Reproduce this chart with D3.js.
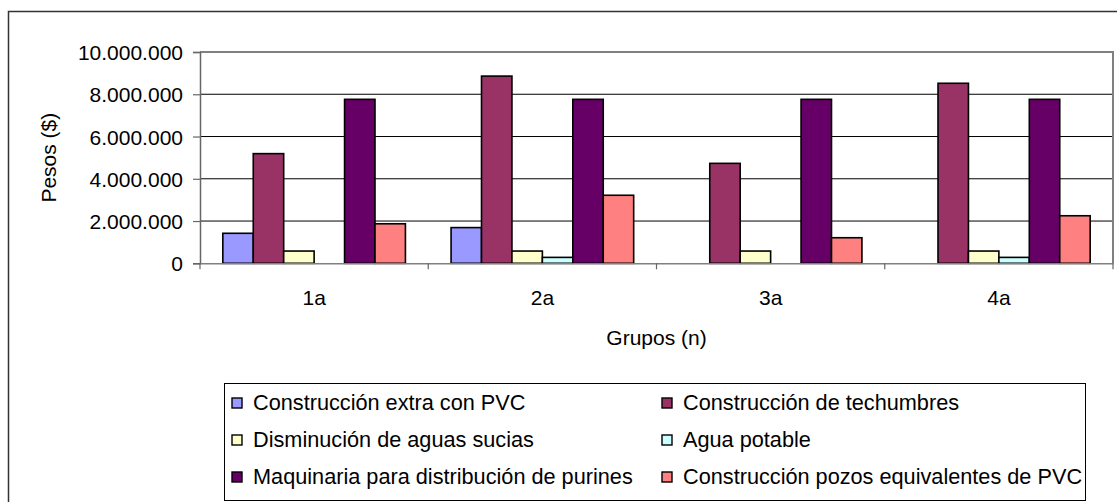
<!DOCTYPE html>
<html><head><meta charset="utf-8">
<script src="https://cdn.jsdelivr.net/npm/d3@7"></script>
<style>
body{margin:0;background:#fff;}
svg{display:block;font-family:"Liberation Sans",Arial,sans-serif;}
</style></head>
<body><svg id="c" width="1117" height="502"></svg>
<script>
const categories = ["1a","2a","3a","4a"];
const seriesNames = ["Construcción extra con PVC","Construcción de techumbres","Disminución de aguas sucias","Agua potable","Maquinaria para distribución de purines","Construcción pozos equivalentes de PVC"];
const seriesColors = ["#9999FF","#993366","#FFFFCC","#CCFFFF","#660066","#FF8080"];
const construccionExtraPVC = [1420000,1690000,0,0];
const construccionTechumbres = [5190000,8860000,4730000,8520000];
const disminucionAguasSucias = [580000,580000,580000,580000];
const aguaPotable = [0,280000,0,280000];
const maquinariaPurines = [7760000,7760000,7760000,7760000];
const construccionPozosPVC = [1870000,3220000,1210000,2250000];
const yTicks = [0,2000000,4000000,6000000,8000000,10000000];
const seriesValues = [construccionExtraPVC,construccionTechumbres,disminucionAguasSucias,aguaPotable,maquinariaPurines,construccionPozosPVC];

const svg = d3.select("#c");
const L=200,R=1113,T=52,B=263.3;
const fs = 21;
const lfs = 21.7;
const loc = d3.formatLocale({decimal:",",thousands:".",grouping:[3],currency:["$",""]});
const fmt = loc.format(",");

// outer chart border
svg.append("path").attr("d","M8.5,520V11.5H1130").attr("fill","none").attr("stroke","#333").attr("stroke-width",1.5);

const x0 = d3.scaleBand().domain(categories).range([L,R]).padding(0);
const bw = x0.bandwidth();
const x1 = d3.scaleBand().domain(d3.range(seriesNames.length)).range([bw*0.1,bw*0.9]).padding(0);
const y = d3.scaleLinear().domain([0,10000000]).range([B,T]);

// gridlines
svg.append("g").selectAll("line").data(yTicks.filter(d=>d>0 && d<10000000)).join("line")
  .attr("x1",L).attr("x2",R).attr("y1",d=>y(d)).attr("y2",d=>y(d))
  .attr("stroke","#000").attr("stroke-width",1);

// plot border top/right
svg.append("path").attr("d",`M${L},${T}H${R}V${B}`).attr("fill","none").attr("stroke","#808080").attr("stroke-width",2);

// bars
const rows=[];
categories.forEach((c,ci)=>seriesValues.forEach((s,si)=>{ if(s[ci]>0) rows.push({c,si,v:s[ci]}); }));
svg.append("g").selectAll("rect").data(rows).join("rect")
  .attr("x",d=>x0(d.c)+x1(d.si)).attr("width",x1.bandwidth())
  .attr("y",d=>y(d.v)).attr("height",d=>y(0)-y(d.v))
  .attr("fill",d=>seriesColors[d.si]).attr("stroke","#000").attr("stroke-width",1.6);

// y axis
const ya = svg.append("g").attr("transform",`translate(${L},0)`)
  .call(d3.axisLeft(y).tickValues(yTicks).tickFormat(fmt).tickSize(7).tickPadding(10));
ya.select(".domain").attr("stroke","#666").attr("stroke-width",1.5);
ya.selectAll(".tick line").attr("stroke","#666").attr("stroke-width",1.2);
ya.selectAll(".tick text").attr("font-size",fs).attr("fill","#000").attr("font-family","Liberation Sans, Arial, sans-serif").attr("dy","0.36em");

// x axis
const xa = svg.append("g").attr("transform",`translate(0,${B})`)
  .call(d3.axisBottom(x0).tickSize(0).tickPadding(0));
xa.select(".domain").attr("stroke","#808080").attr("stroke-width",1.5);
xa.selectAll(".tick text").attr("font-size",fs).attr("fill","#000").attr("font-family","Liberation Sans, Arial, sans-serif").attr("y",42).attr("dy",0);
// category boundary ticks
const bounds = categories.map(c=>x0(c)).concat([R]);
svg.append("g").selectAll("line").data(bounds).join("line")
  .attr("x1",d=>d).attr("x2",d=>d).attr("y1",B).attr("y2",B+6)
  .attr("stroke","#666").attr("stroke-width",1.2);

// axis titles
svg.append("text").attr("transform",`translate(56,${(T+B)/2}) rotate(-90)`).attr("text-anchor","middle")
  .attr("font-size",fs).text("Pesos ($)");
svg.append("text").attr("x",(L+R)/2).attr("y",345).attr("text-anchor","middle")
  .attr("font-size",fs).text("Grupos (n)");

// legend
const lg = svg.append("g");
lg.append("rect").attr("x",224.5).attr("y",383.5).attr("width",861).attr("height",117).attr("fill","#fff").attr("stroke","#000").attr("stroke-width",1);
const colX=[232,662], rowY=[410,447,484];
seriesNames.forEach((n,i)=>{
  const cx=colX[i%2], ry=rowY[Math.floor(i/2)];
  lg.append("rect").attr("x",cx).attr("y",ry-12).attr("width",10).attr("height",10)
    .attr("fill",seriesColors[i]).attr("stroke","#000").attr("stroke-width",1.4);
  lg.append("text").attr("x",cx+21).attr("y",ry).attr("font-size",lfs).text(n);
});
</script></body></html>
